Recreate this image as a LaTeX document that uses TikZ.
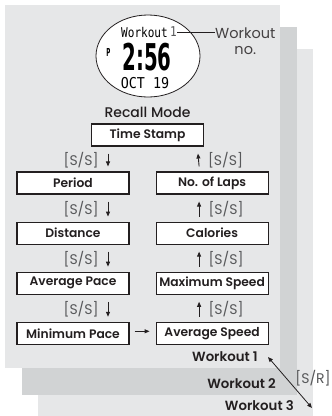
\documentclass[tikz,border=0pt]{standalone}
\usepackage{fontspec}
\setmainfont{Poppins}
\newfontfamily\medfont{Poppins Medium}
\newfontfamily\semifont{Poppins SemiBold}
\newfontfamily\lcdfont{DejaVu Sans Mono}
\newfontfamily\lcdsans{DejaVu Sans}
\usetikzlibrary{arrows.meta,positioning,shapes.geometric}
\definecolor{panellight}{HTML}{E6E7E8}
\definecolor{paneldark}{HTML}{D1D3D4}
\definecolor{ink}{HTML}{231F20}
\definecolor{muted}{HTML}{58595B}

\begin{document}
\begin{tikzpicture}[x=1pt, y=-1pt, node distance=27pt and 26pt,
      box/.style={draw=ink, fill=white, line width=1.1pt, minimum width=112pt, minimum height=22pt,
                  inner sep=0pt, font=\semifont\fontsize{12.3}{14}\selectfont, text=ink},
      lbl/.style={font=\fontsize{14}{16}\selectfont, text=muted, inner sep=0pt},
      arr/.style={-{Triangle[length=5pt,width=4pt]}, ink, line width=0.9pt},
      wkt/.style={font=\semifont\fontsize{13.3}{15}\selectfont, text=ink, anchor=east, inner sep=0pt}]
    \useasboundingbox (0,0) rectangle (332,416);
    % stacked workout cards
    \fill[panellight] (38,49) rectangle (313,416);
    \fill[paneldark] (22,27) rectangle (297,395);
    \fill[panellight] (5,5) rectangle (280,368);
    % watch face
    \node[ellipse, draw=ink, fill=white, line width=0.8pt, minimum width=104pt, minimum height=82pt] (face) at (148,56) {};
    \node[font=\lcdfont\fontsize{12}{12}\selectfont, inner sep=0pt] (wk) at (144.5,32) {\scalebox{0.92}[1.12]{Workout}};
    \node[font=\lcdfont\fontsize{12}{12}\selectfont, text=muted, inner sep=0pt, right=2pt of wk] (wkno) {\scalebox{0.92}[1.12]{1}};
    \node[font=\lcdsans\bfseries\fontsize{11}{11}\selectfont, inner sep=0pt] (pm) at (108.5,52.5) {\scalebox{0.5}[1]{P}};
    \node[font=\lcdsans\bfseries\fontsize{26}{26}\selectfont, inner sep=0pt, anchor=base] (time) at (147,70) {\scalebox{0.76}[1.42]{2:56}};
    \node[font=\lcdfont\fontsize{13}{13}\selectfont, inner sep=0pt, anchor=base] (date) at (145,88) {\scalebox{1.03}[1.15]{OCT 19}};
    \node[anchor=west, align=center, font=\fontsize{14.5}{16}\selectfont, text=ink!85, inner sep=0pt] (wklbl) at (215,41) {Workout\\no.};
    \draw[ink, line width=0.7pt] (wkno.east) -- (wkno.east -| wklbl.west);
    % recall list
    \node[box] (ts) at (147.5,135) {Time Stamp};
    \node[above=6pt of ts, font=\medfont\fontsize{14}{16}\selectfont, text=ink, inner sep=0pt] (rm) {Recall Mode};
    \node[box] (per) at (73,183) {Period};
    \node[box, right=of per] (nol) {No. of Laps};
    \node[box, below=of per] (dist) {Distance};
    \node[box, below=of nol] (cal) {Calories};
    \node[box, below=of dist] (avp) {Average Pace};
    \node[box, below=of cal] (maxs) {Maximum Speed};
    \node[box, below=of avp] (minp) {Minimum Pace};
    \node[box, below=of maxs] (avs) {Average Speed};
    \draw[arr] ([xshift=-39.5pt,yshift=-7pt]ts.south) -- node[lbl, left=9pt] {[S/S]} ([xshift=35pt,yshift=5pt]per.north);
    \draw[arr] ([xshift=35pt,yshift=-7pt]per.south) -- node[lbl, left=9pt] {[S/S]} ([xshift=35pt,yshift=5pt]dist.north);
    \draw[arr] ([xshift=35pt,yshift=-7pt]dist.south) -- node[lbl, left=9pt] {[S/S]} ([xshift=35pt,yshift=5pt]avp.north);
    \draw[arr] ([xshift=35pt,yshift=-7pt]avp.south) -- node[lbl, left=9pt] {[S/S]} ([xshift=35pt,yshift=5pt]minp.north);
    \draw[arr] ([xshift=5pt,yshift=2pt]minp.east) -- ([xshift=-6pt,yshift=2pt]avs.west);
    \draw[arr] ([xshift=-13pt,yshift=5pt]avs.north) -- node[lbl, right=9pt] {[S/S]} ([xshift=-13pt,yshift=-7pt]maxs.south);
    \draw[arr] ([xshift=-13pt,yshift=5pt]maxs.north) -- node[lbl, right=9pt] {[S/S]} ([xshift=-13pt,yshift=-7pt]cal.south);
    \draw[arr] ([xshift=-13pt,yshift=5pt]cal.north) -- node[lbl, right=9pt] {[S/S]} ([xshift=-13pt,yshift=-7pt]nol.south);
    \draw[arr] ([xshift=-13pt,yshift=5pt]nol.north) -- node[lbl, right=9pt] {[S/S]} ([xshift=50.5pt,yshift=-7pt]ts.south);
    % workout labels
    \node[wkt] (w1) at (258,357) {Workout 1};
    \node[wkt] (w2) at (276,384) {Workout 2};
    \node[wkt] (w3) at (294,406) {Workout 3};
    \draw[{Triangle[length=5pt,width=4pt]}-{Triangle[length=5pt,width=4pt]}, ink, line width=0.8pt]
      ([xshift=10pt]w1.east) -- node[lbl, anchor=west, xshift=5pt, yshift=4pt] {[S/R]} ([xshift=18pt,yshift=-2pt]w3.east);
  \end{tikzpicture}
\end{document}
